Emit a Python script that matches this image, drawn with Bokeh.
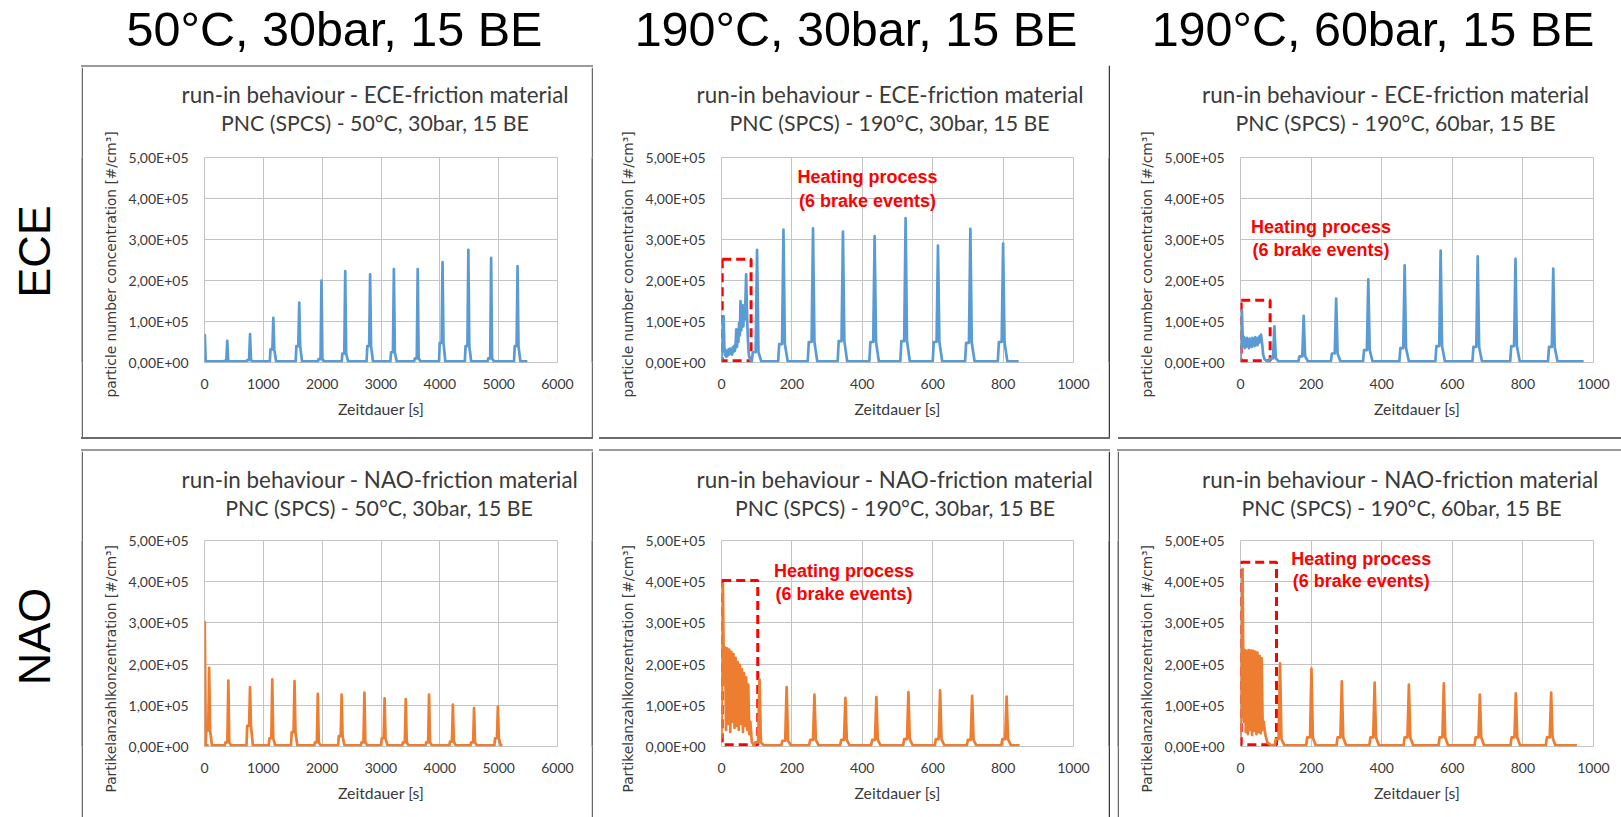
import math
from bokeh.plotting import figure
from bokeh.layouts import row, column, Spacer
from bokeh.models import Range1d, FixedTicker, Title, Label, BoxAnnotation, ColumnDataSource, Div
from bokeh.core.properties import value
from bokeh.embed import file_html
from bokeh.resources import INLINE

# ---------------- texts ----------------
header_labels = ["50°C, 30bar, 15 BE", "190°C, 30bar, 15 BE", "190°C, 60bar, 15 BE"]
row_labels = ["ECE", "NAO"]
title_line1 = ["run-in behaviour - ECE-friction material", "run-in behaviour - NAO-friction material"]
title_line2 = ["PNC (SPCS) - 50°C, 30bar, 15 BE", "PNC (SPCS) - 190°C, 30bar, 15 BE",
               "PNC (SPCS) - 190°C, 60bar, 15 BE"]
y_axis_labels = ["particle number concentration [#/cm³]", "Partikelanzahlkonzentration [#/cm³]"]
x_axis_label = "Zeitdauer [s]"
heating_text = ["Heating process", "(6 brake events)"]

y_ticks = [0, 100000, 200000, 300000, 400000, 500000]
y_tick_labels = ["0,00E+00", "1,00E+05", "2,00E+05", "3,00E+05", "4,00E+05", "5,00E+05"]
x_ticks_long = [0, 1000, 2000, 3000, 4000, 5000, 6000]
x_ticks_short = [0, 200, 400, 600, 800, 1000]

# ---------------- data (values in 1e3 #/cm3, times in s) ----------------
base_level = 3

# ECE 50°C, 30bar
ece50_t = [5, 387, 774, 1170, 1610, 1988, 2392, 2815, 3219, 3624, 4046, 4485, 4872, 5321]
ece50_peak = [67, 53, 69, 109, 146, 200, 223, 215, 228, 228, 245, 275, 255, 235]
ece50_pre = [0, 4, 6, 32, 40, 8, 22, 40, 25, 10, 48, 40, 10, 40]
ece50_end = 5488

# ECE 190°C, 30bar
ece30_heat_t = [0, 2, 4, 6, 8, 10, 12, 14, 16, 18, 20, 22, 24, 26, 28, 30, 32, 34, 36, 38,
                40, 42, 44, 46, 48, 50, 52, 54, 56, 58, 60, 62, 64, 66, 68, 70, 72, 74, 76, 78, 81, 84]
ece30_heat_v = [5, 45, 85, 113, 40, 18, 30, 14, 27, 17, 32, 20, 34, 24, 30, 19, 37, 26, 40, 28,
                44, 81, 38, 62, 50, 96, 66, 150, 78, 122, 140, 88, 132, 105, 152, 215, 135, 78, 38, 16, 8, 4]
ece30_t = [101, 176, 260, 345, 435, 523, 615, 707, 800]
ece30_peak = [275, 324, 327, 319, 308, 352, 285, 326, 290]
ece30_pre = [25, 45, 50, 52, 50, 52, 50, 48, 50]
ece30_end = 844

# ECE 190°C, 60bar
ece60_heat_t = [0, 2, 4, 6, 8, 10, 12, 14, 16, 18, 20, 22, 24, 26, 28, 30, 32, 34, 36, 38,
                40, 42, 44, 46, 48, 50, 52, 54, 56, 58, 60, 62, 64, 68, 74]
ece60_heat_v = [5, 60, 127, 70, 40, 62, 35, 55, 38, 60, 40, 52, 35, 58, 42, 55, 38, 60, 45, 56,
                40, 62, 45, 58, 42, 60, 48, 64, 50, 68, 55, 40, 20, 8, 4]
ece60_t = [96, 179, 271, 362, 465, 567, 672, 779, 886]
ece60_peak = [88, 114, 156, 203, 237, 273, 259, 253, 229]
ece60_pre = [10, 15, 22, 30, 35, 40, 38, 40, 38]
ece60_end = 972

# NAO 50°C, 30bar
nao50_t = [5, 79, 405, 774, 1152, 1530, 1926, 2331, 2718, 3061, 3421, 3817, 4222, 4582, 4987]
nao50_peak = [302, 191, 160, 144, 163, 159, 128, 126, 131, 117, 115, 126, 102, 93, 97]
nao50_pre = [0, 39, 10, 50, 20, 35, 10, 25, 10, 20, 10, 10, 12, 10, 20]
nao50_end = 5066

# NAO 190°C, 30bar
nao30_heat_t = [0, 2, 4, 7, 10, 13, 16, 19, 22, 25, 28, 31, 34, 37, 40, 43, 46, 49, 52, 55,
                58, 61, 64, 67, 70, 73, 76, 79, 82, 86, 90]
nao30_heat_v = [20, 220, 395, 150, 240, 40, 238, 55, 235, 35, 230, 60, 224, 45, 215, 50, 205, 40, 198, 55,
                188, 35, 178, 50, 168, 40, 150, 30, 60, 12, 5]
nao30_t = [108, 185, 264, 352, 440, 531, 621, 712, 810]
nao30_peak = [163, 144, 126, 118, 120, 132, 136, 123, 121]
nao30_pre = [10, 14, 16, 16, 16, 18, 18, 16, 18]
nao30_end = 847

# NAO 190°C, 60bar
nao60_heat_t = [0, 3, 6, 9, 12, 15, 18, 21, 24, 27, 30, 33, 36, 39, 42, 45, 48, 51, 54, 57,
                60, 63, 66, 70, 76, 84]
nao60_heat_v = [20, 250, 431, 60, 234, 35, 232, 30, 234, 40, 233, 28, 232, 38, 230, 30, 228, 35, 220, 32,
                214, 40, 60, 30, 10, 4]
nao60_t = [112, 201, 287, 380, 477, 576, 678, 780, 880]
nao60_peak = [202, 189, 158, 155, 150, 153, 126, 129, 131]
nao60_pre = [18, 22, 22, 22, 22, 22, 22, 22, 22]
nao60_end = 953

# heating-process boxes: t0, t1, v0, v1 (1e3)
box_ece30 = [2, 84, 4, 252]
box_ece60 = [2, 84, 4, 152]
box_nao30 = [2, 103, 4, 403]
box_nao60 = [2, 102, 4, 447]

# ---------------- style / layout ----------------
BLUE = "#5B9BD5"
ORANGE = "#ED7D31"
GRID = "#c3c3c3"
TXT = "#3a3a3a"
RED = "#ff0000"
DARK = "#6a6a6a"
DARKER = "#3c3c3c"
LIGHT = "#9a9a9a"

SPIKE_OFFS = [-1.5, -1.2, -0.4, 0.0, 0.4, 1.2]
# (width, height, min_border left, right, top, bottom)
DIMS = {
    (0, 0): (508, 370, 121, 34, 90, 75),
    (1, 0): (513, 372, 126, 35, 92, 75),
    (2, 0): (509, 372, 128, 28, 92, 75),
    (0, 1): (508, 366, 121, 34, 89, 71),
    (1, 1): (513, 366, 126, 35, 89, 71),
    (2, 1): (502, 366, 121, 28, 89, 71),
}
# title left offsets relative to frame left: (line1, line2)
TITLE_OFF = {
    (0, 0): (-23, 16.5), (1, 0): (-25, 8), (2, 0): (-38.5, -5),
    (0, 1): (-23, 20.7), (1, 1): (-25, 13.5), (2, 1): (-38.5, 1),
}
TITLE_GAP = [18.9, 16.9]
YLABEL_OFF = [-35, -46]
YLABEL_STANDOFF = 14


def build_series(heat_t, heat_v, ev_t, ev_peak, ev_pre, t_end, w):
    if heat_t:
        xs = [float(t) for t in heat_t]
        ys = [v * 1000.0 for v in heat_v]
    else:
        xs = [0.0]
        ys = [base_level * 1000.0]
    for t, pk, pr in zip(ev_t, ev_peak, ev_pre):
        prv = max(pr, base_level)
        vals = [base_level, prv, prv, pk, prv, base_level]
        for o, v in zip(SPIKE_OFFS, vals):
            xs.append(t + o * w)
            ys.append(v * 1000.0)
    xs.append(float(t_end))
    ys.append(base_level * 1000.0)
    return xs, ys


def bar(w, h, color):
    return figure(width=w, height=h, toolbar_location=None, output_backend="svg", min_border=0,
                  x_axis_type=None, y_axis_type=None, outline_line_color=None, title=None,
                  background_fill_color=color, border_fill_color=color)


def hline(w, color):
    return Div(text="", width=w, height=2, margin=0, styles={"background-color": color})


def sp(w, h):
    return Spacer(width=w, height=h)


panels = [
    dict(c=0, r=0, xmax=6000, xt=x_ticks_long, ht=[], hv=[], et=ece50_t, ep=ece50_peak, epr=ece50_pre,
         end=ece50_end, w=40, color=BLUE, box=None, txt=None),
    dict(c=1, r=0, xmax=1000, xt=x_ticks_short, ht=ece30_heat_t, hv=ece30_heat_v, et=ece30_t, ep=ece30_peak,
         epr=ece30_pre, end=ece30_end, w=10, color=BLUE, box=box_ece30, txt=(415, 452, 395)),
    dict(c=2, r=0, xmax=1000, xt=x_ticks_short, ht=ece60_heat_t, hv=ece60_heat_v, et=ece60_t, ep=ece60_peak,
         epr=ece60_pre, end=ece60_end, w=10, color=BLUE, box=box_ece60, txt=(228, 330, 275)),
    dict(c=0, r=1, xmax=6000, xt=x_ticks_long, ht=[], hv=[], et=nao50_t, ep=nao50_peak, epr=nao50_pre,
         end=nao50_end, w=40, color=ORANGE, box=None, txt=None),
    dict(c=1, r=1, xmax=1000, xt=x_ticks_short, ht=nao30_heat_t, hv=nao30_heat_v, et=nao30_t, ep=nao30_peak,
         epr=nao30_pre, end=nao30_end, w=10, color=ORANGE, box=box_nao30, txt=(348, 427, 371)),
    dict(c=2, r=1, xmax=1000, xt=x_ticks_short, ht=nao60_heat_t, hv=nao60_heat_v, et=nao60_t, ep=nao60_peak,
         epr=nao60_pre, end=nao60_end, w=10, color=ORANGE, box=box_nao60, txt=(342, 456, 401)),
]

figs = {}
for d in panels:
    c, r = d["c"], d["r"]
    W, H, bl, br, bt, bb = DIMS[(c, r)]
    p = figure(width=W, height=H, x_range=Range1d(0, d["xmax"]), y_range=Range1d(0, 500000),
               toolbar_location=None, output_backend="svg", title=None,
               min_border_left=bl, min_border_right=br, min_border_top=bt, min_border_bottom=bb)
    p.background_fill_color = "white"
    p.border_fill_color = "white"
    p.outline_line_color = GRID
    p.xgrid.grid_line_color = GRID
    p.ygrid.grid_line_color = GRID
    p.xaxis.ticker = FixedTicker(ticks=d["xt"])
    p.yaxis.ticker = FixedTicker(ticks=y_ticks)
    p.yaxis.major_label_overrides = {t: s for t, s in zip(y_ticks, y_tick_labels)}
    for ax in (p.xaxis, p.yaxis):
        ax.axis_line_color = None
        ax.major_tick_line_color = None
        ax.minor_tick_line_color = None
        ax.major_tick_out = 0
        ax.major_tick_in = 0
        ax.major_label_text_font = "Lato"
        ax.major_label_text_font_size = "14px"
        ax.major_label_text_color = TXT
        ax.axis_label_text_font_style = "normal"
        ax.axis_label_text_color = TXT
    p.xaxis.major_label_standoff = 16
    p.yaxis.major_label_standoff = 16
    p.xaxis.axis_label = x_axis_label
    p.xaxis.axis_label_text_font = "Lato"
    p.xaxis.axis_label_text_font_size = "15.8px"
    p.xaxis.axis_label_standoff = 7

    # y-axis title, placed along the left side like the Excel axis title
    p.add_layout(Title(text=y_axis_labels[r], align="left", offset=YLABEL_OFF[r],
                       standoff=YLABEL_STANDOFF, vertical_align="bottom",
                       text_font="DejaVu Sans", text_font_size="13.7px", text_font_style="normal",
                       text_color=TXT), "left")

    off1, off2 = TITLE_OFF[(c, r)]
    p.add_layout(Title(text=" ", text_font_size="1px", standoff=TITLE_GAP[r]), "above")
    p.add_layout(Title(text=title_line2[c], align="left", offset=off2, standoff=0,
                       text_font="Lato", text_font_size="21.3px", text_font_style="normal",
                       text_color=TXT), "above")
    p.add_layout(Title(text=title_line1[r], align="left", offset=off1, standoff=0,
                       text_font="Lato", text_font_size="22.4px", text_font_style="normal",
                       text_color=TXT), "above")

    if d["box"] is not None:
        b = d["box"]
        p.add_layout(BoxAnnotation(left=b[0], right=b[1], bottom=b[2] * 1000, top=b[3] * 1000,
                                   fill_alpha=0.0, line_color=RED, line_alpha=1.0, line_width=3,
                                   line_dash="9 5", level="underlay"))

    xs, ys = build_series(d["ht"], d["hv"], d["et"], d["ep"], d["epr"], d["end"], d["w"])
    src = ColumnDataSource(dict(t=xs, v=ys))
    p.line(x="t", y="v", source=src, line_color=d["color"], line_width=2.7, line_join="round")

    if d["txt"] is not None:
        tx, ty1, ty2 = d["txt"]
        for txt_s, ty in zip(heating_text, (ty1, ty2)):
            p.add_layout(Label(x=tx, y=ty * 1000, text=txt_s, text_font="Liberation Sans",
                               text_font_style="bold", text_font_size="18px", text_color=RED,
                               text_align="center", text_baseline="middle"))
    figs[(c, r)] = p

# header
hdr = figure(width=1621, height=65, x_range=Range1d(0, 1621), y_range=Range1d(0, 65),
             toolbar_location=None, output_backend="svg", min_border=0, x_axis_type=None,
             y_axis_type=None, outline_line_color=None, title=None)
hdr_src = ColumnDataSource(dict(x=[334, 855.5, 1372.5], y=[36.3, 36.3, 36.3], text=header_labels))
hdr.text(x="x", y="y", text="text", source=hdr_src, text_font=value("Liberation Sans"),
         text_font_size=value("48.5px"), text_align="center", text_baseline="middle", text_color="black")

# row labels
lab = figure(width=81, height=752, x_range=Range1d(0, 81), y_range=Range1d(0, 752),
             toolbar_location=None, output_backend="svg", min_border=0, x_axis_type=None,
             y_axis_type=None, outline_line_color=None, title=None)
lab_src = ColumnDataSource(dict(x=[33.5, 33.5], y=[566, 181], text=row_labels))
lab.text(x="x", y="y", text="text", source=lab_src, angle=math.pi / 2, text_font=value("Liberation Sans"),
         text_font_size=value("45px"), text_align="center", text_baseline="middle", text_color="black")

colB = column(
    row(hline(512, LIGHT), sp(2, 2)),
    row(bar(2, 370, DARK), figs[(0, 0)], bar(2, 370, DARK), sp(2, 370)),
    row(hline(512, DARK), sp(2, 2)),
    sp(514, 10),
    row(hline(512, LIGHT), sp(2, 2)),
    row(bar(2, 366, DARK), figs[(0, 1)], bar(2, 366, DARK), sp(2, 366)),
)
colC = column(
    row(figs[(1, 0)], bar(2, 372, DARKER), sp(2, 372)),
    row(sp(4, 2), hline(511, DARK), sp(2, 2)),
    sp(517, 10),
    row(sp(4, 2), hline(511, LIGHT), sp(2, 2)),
    row(figs[(1, 1)], bar(2, 366, DARKER), sp(2, 366)),
)
colD = column(
    figs[(2, 0)],
    row(sp(6, 2), hline(503, DARK)),
    sp(509, 10),
    row(sp(5, 2), hline(504, LIGHT)),
    row(sp(5, 366), bar(2, 366, DARK), figs[(2, 1)]),
)

page = column(hdr, row(lab, colB, colC, colD))

open("out.html", "w").write(file_html(page, INLINE))
